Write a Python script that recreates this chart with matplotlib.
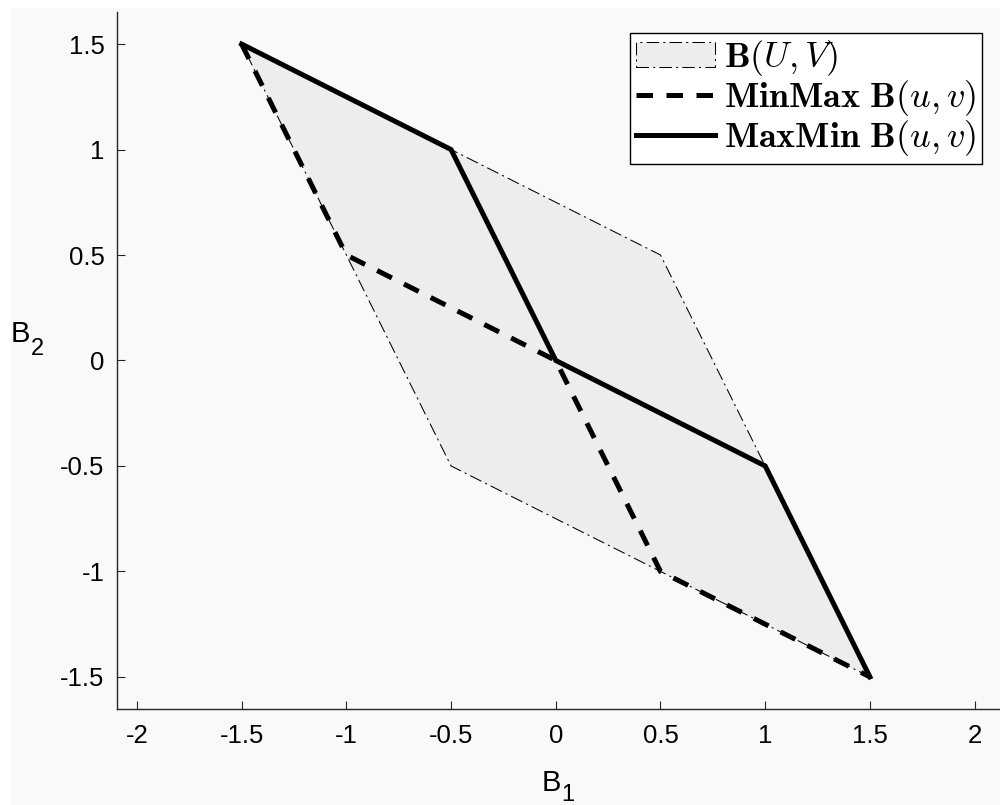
import matplotlib
matplotlib.use("Agg")
import matplotlib.pyplot as plt
from matplotlib.patches import Polygon, Rectangle
from matplotlib.ticker import FuncFormatter

plt.rcParams['font.family'] = ['Liberation Sans', 'DejaVu Sans']
plt.rcParams['mathtext.fontset'] = 'cm'

# region B(U,V)
regionX = [-1.5, -0.5, 0.5, 1.0, 1.5, 0.5, -0.5, -1.0]
regionY = [1.5, 1.0, 0.5, -0.5, -1.5, -1.0, -0.5, 0.5]

# MinMax B(u,v)
minMaxX = [-1.5, -1.0, 0.0, 0.5, 1.5]
minMaxY = [1.5, 0.5, 0.0, -1.0, -1.5]

# MaxMin B(u,v)
maxMinX = [-1.5, -0.5, 0.0, 1.0, 1.5]
maxMinY = [1.5, 1.0, 0.0, -0.5, -1.5]

xTicks = [-2, -1.5, -1, -0.5, 0, 0.5, 1, 1.5, 2]
yTicks = [-1.5, -1, -0.5, 0, 0.5, 1, 1.5]

bgColor = '#f9f9f9'
fillColor = '#ededed'
axisColor = '#262626'

fig = plt.figure(figsize=(10, 8.05), dpi=100, facecolor='white')
fig.patches.append(Rectangle((0.011, 0), 0.989, 0.99, transform=fig.transFigure,
                             facecolor=bgColor, edgecolor='none', zorder=-10))

ax = fig.add_axes([0.117, 0.1193, 0.888, 0.8658])
ax.set_facecolor(bgColor)

poly = Polygon(list(zip(regionX, regionY)), closed=True, facecolor=fillColor,
               edgecolor='black', linewidth=0.75, linestyle=(0, (12, 4, 2, 4)),
               label=r'$\mathbf{B}(U,V)$', zorder=1)
ax.add_patch(poly)

ax.plot(minMaxX, minMaxY, color='black', linewidth=3.6, linestyle=(0, (3.3, 2.7)),
        dash_capstyle='butt', solid_joinstyle='miter',
        label=r'$\mathbf{MinMax\ B}(u,v)$', zorder=2)
ax.plot(maxMinX, maxMinY, color='black', linewidth=3.6, solid_joinstyle='miter',
        label=r'$\mathbf{MaxMin\ B}(u,v)$', zorder=3)

ax.set_xlim(-2.095, 2.145)
ax.set_ylim(-1.652, 1.652)
ax.set_xticks(xTicks)
ax.set_yticks(yTicks)
fmt = FuncFormatter(lambda v, p: ('%g' % v))
ax.xaxis.set_major_formatter(fmt)
ax.yaxis.set_major_formatter(fmt)

for s in ['top', 'right']:
    ax.spines[s].set_visible(False)
for s in ['left', 'bottom']:
    ax.spines[s].set_color(axisColor)
    ax.spines[s].set_linewidth(1.0)
ax.tick_params(direction='in', length=6, width=0.8, color=axisColor,
               labelsize=18.5, labelcolor='black')
ax.tick_params(axis='x', pad=11)
ax.tick_params(axis='y', pad=9)

# axis labels with subscripts
fig.text(0.011, 1 - 342 / 805, 'B', fontsize=21, va='baseline', ha='left')
fig.text(0.031, 1 - 355 / 805, '2', fontsize=17, va='baseline', ha='left')
fig.text(0.542, 1 - 791 / 805, 'B', fontsize=21, va='baseline', ha='left')
fig.text(0.561, 1 - 801 / 805, '1', fontsize=17, va='baseline', ha='left')

leg = ax.legend(loc='upper right', bbox_to_anchor=(982 / 1000, 1 - 33 / 805),
                bbox_transform=fig.transFigure, fontsize=26, frameon=True,
                fancybox=False, edgecolor='black', facecolor='white', framealpha=1,
                handlelength=2.2, handleheight=0.7, handletextpad=0.25,
                borderpad=0.15, labelspacing=0.0, borderaxespad=0)
leg.get_frame().set_linewidth(1.0)

plt.savefig('out.png', dpi=100, facecolor='white')
